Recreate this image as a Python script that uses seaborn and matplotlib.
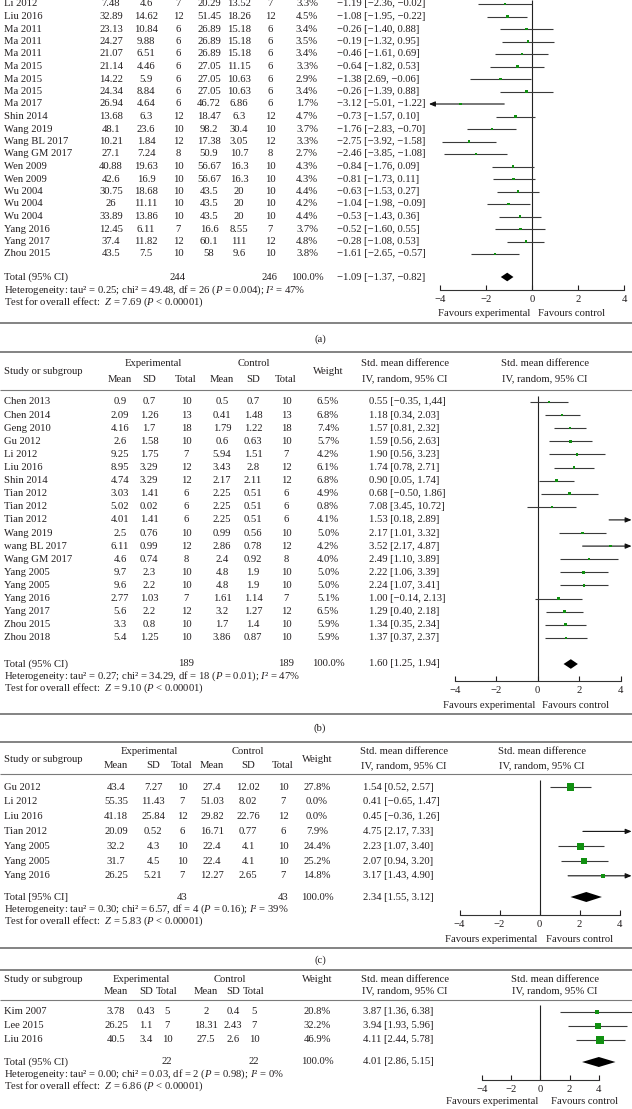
import numpy as np
import pandas as pd
import matplotlib
matplotlib.use("Agg")
import matplotlib.pyplot as plt
import seaborn as sns

sns.set_theme(style="white")
plt.rcParams["font.family"] = ["Liberation Serif", "DejaVu Serif"]
plt.rcParams["mathtext.fontset"] = "custom"
plt.rcParams["mathtext.rm"] = "Liberation Serif"
plt.rcParams["mathtext.it"] = "Liberation Serif:italic"
plt.rcParams["axes.unicode_minus"] = True

W, H, DPI = 632, 1109, 100
FS = 7.7
TXT = "#231f20"
GREEN = "#119011"
CI_COL = "#3a3a3a"
SEP_COL = "#7a7a7a"

# ---------------- panel (a) data ----------------
a_study = ["Li 2012", "Liu 2016", "Ma 2011", "Ma 2011", "Ma 2011", "Ma 2015", "Ma 2015", "Ma 2015",
           "Ma 2017", "Shin 2014", "Wang 2019", "Wang BL 2017", "Wang GM 2017", "Wen 2009", "Wen 2009",
           "Wu 2004", "Wu 2004", "Wu 2004", "Yang 2016", "Yang 2017", "Zhou 2015"]
a_exp_mean = [7.48, 32.89, 23.13, 24.27, 21.07, 21.14, 14.22, 24.34, 26.94, 13.68, 48.1, 10.21, 27.1,
              40.88, 42.6, 30.75, 26, 33.89, 12.45, 37.4, 43.5]
a_exp_sd = [4.6, 14.62, 10.84, 9.88, 6.51, 4.46, 5.9, 8.84, 4.64, 6.3, 23.6, 1.84, 7.24, 19.63, 16.9,
            18.68, 11.11, 13.86, 6.11, 11.82, 7.5]
a_exp_n = [7, 12, 6, 6, 6, 6, 6, 6, 6, 12, 10, 12, 8, 10, 10, 10, 10, 10, 7, 12, 10]
a_ctl_mean = [20.29, 51.45, 26.89, 26.89, 26.89, 27.05, 27.05, 27.05, 46.72, 18.47, 98.2, 17.38, 50.9,
              56.67, 56.67, 43.5, 43.5, 43.5, 16.6, 60.1, 58]
a_ctl_sd = [13.52, 18.26, 15.18, 15.18, 15.18, 11.15, 10.63, 10.63, 6.86, 6.3, 30.4, 3.05, 10.7, 16.3,
            16.3, 20, 20, 20, 8.55, 111, 9.6]
a_ctl_n = [7, 12, 6, 6, 6, 6, 6, 6, 6, 12, 10, 12, 8, 10, 10, 10, 10, 10, 7, 12, 10]
a_weight = [3.3, 4.5, 3.4, 3.5, 3.4, 3.3, 2.9, 3.4, 1.7, 4.7, 3.7, 3.3, 2.7, 4.3, 4.3, 4.4, 4.2, 4.4,
            3.7, 4.8, 3.8]
a_smd = [-1.19, -1.08, -0.26, -0.19, -0.46, -0.64, -1.38, -0.26, -3.12, -0.73, -1.76, -2.75, -2.46,
         -0.84, -0.81, -0.63, -1.04, -0.53, -0.52, -0.28, -1.61]
a_lo = [-2.36, -1.95, -1.40, -1.32, -1.61, -1.82, -2.69, -1.39, -5.01, -1.57, -2.83, -3.92, -3.85,
        -1.76, -1.73, -1.53, -1.98, -1.43, -1.60, -1.08, -2.65]
a_hi = [-0.02, -0.22, 0.88, 0.95, 0.69, 0.53, -0.06, 0.88, -1.22, 0.10, -0.70, -1.58, -1.08, 0.09,
        0.11, 0.27, -0.09, 0.36, 0.55, 0.53, -0.57]
a_ci_labels = ["−1.19 [−2.36, −0.02]", "−1.08 [−1.95, −0.22]", "−0.26 [−1.40, 0.88]",
               "−0.19 [−1.32, 0.95]", "−0.46 [−1.61, 0.69]", "−0.64 [−1.82, 0.53]",
               "−1.38 [2.69, −0.06]", "−0.26 [−1.39, 0.88]", "−3.12 [−5.01, −1.22]",
               "−0.73 [−1.57, 0.10]", "−1.76 [−2.83, −0.70]", "−2.75 [−3.92, −1.58]",
               "−2.46 [−3.85, −1.08]", "−0.84 [−1.76, 0.09]", "−0.81 [−1.73, 0.11]",
               "−0.63 [−1.53, 0.27]", "−1.04 [−1.98, −0.09]", "−0.53 [−1.43, 0.36]",
               "−0.52 [−1.60, 0.55]", "−0.28 [−1.08, 0.53]", "−1.61 [−2.65, −0.57]"]
a_plot_order = list(range(21))
a_total_n = [244, 246]
a_total = [-1.09, -1.37, -0.82]
a_total_label = "−1.09 [−1.37, −0.82]"
a_het = ["0.25", "49.48", "26", "0.004", "47%"]
a_z = "7.69"

# ---------------- panel (b) data ----------------
b_study = ["Chen 2013", "Chen 2014", "Geng 2010", "Gu 2012", "Li 2012", "Liu 2016", "Shin 2014",
           "Tian 2012", "Tian 2012", "Tian 2012", "Wang 2019", "wang BL 2017", "Wang GM 2017",
           "Yang 2005", "Yang 2005", "Yang 2016", "Yang 2017", "Zhou 2015", "Zhou 2018"]
b_exp_mean = [0.9, 2.09, 4.16, 2.6, 9.25, 8.95, 4.74, 3.03, 5.02, 4.01, 2.5, 6.11, 4.6, 9.7, 9.6,
              2.77, 5.6, 3.3, 5.4]
b_exp_sd = [0.7, 1.26, 1.7, 1.58, 1.75, 3.29, 3.29, 1.41, 0.02, 1.41, 0.76, 0.99, 0.74, 2.3, 2.2,
            1.03, 2.2, 0.8, 1.25]
b_exp_n = [10, 13, 18, 10, 7, 12, 12, 6, 6, 6, 10, 12, 8, 10, 10, 7, 12, 10, 10]
b_ctl_mean = [0.5, 0.41, 1.79, 0.6, 5.94, 3.43, 2.17, 2.25, 2.25, 2.25, 0.99, 2.86, 2.4, 4.8, 4.8,
              1.61, 3.2, 1.7, 3.86]
b_ctl_sd = [0.7, 1.48, 1.22, 0.63, 1.51, 2.8, 2.11, 0.51, 0.51, 0.51, 0.56, 0.78, 0.92, 1.9, 1.9,
            1.14, 1.27, 1.4, 0.87]
b_ctl_n = [10, 13, 18, 10, 7, 12, 12, 6, 6, 6, 10, 12, 8, 10, 10, 7, 12, 10, 10]
b_weight = [6.5, 6.8, 7.4, 5.7, 4.2, 6.1, 6.8, 4.9, 0.8, 4.1, 5.0, 4.2, 4.0, 5.0, 5.0, 5.1, 6.5,
            5.9, 5.9]
b_smd = [0.55, 1.18, 1.57, 1.59, 1.90, 1.74, 0.90, 0.68, 7.08, 1.53, 2.17, 3.52, 2.49, 2.22, 2.24,
         1.00, 1.29, 1.34, 1.37]
b_lo = [-0.35, 0.34, 0.81, 0.56, 0.56, 0.78, 0.05, -0.50, 3.45, 0.18, 1.01, 2.17, 1.10, 1.06, 1.07,
        -0.14, 0.40, 0.35, 0.37]
b_hi = [1.44, 2.03, 2.32, 2.63, 3.23, 2.71, 1.74, 1.86, 10.72, 2.89, 3.32, 4.87, 3.89, 3.39, 3.41,
        2.13, 2.18, 2.34, 2.37]
b_ci_labels = ["0.55 [−0.35, 1,44]", "1.18 [0.34, 2.03]", "1.57 [0.81, 2.32]", "1.59 [0.56, 2.63]",
               "1.90 [0.56, 3.23]", "1.74 [0.78, 2.71]", "0.90 [0.05, 1.74]", "0.68 [−0.50, 1.86]",
               "7.08 [3.45, 10.72]", "1.53 [0.18, 2.89]", "2.17 [1.01, 3.32]", "3.52 [2.17, 4.87]",
               "2.49 [1.10, 3.89]", "2.22 [1.06, 3.39]", "2.24 [1.07, 3.41]", "1.00 [−0.14, 2.13]",
               "1.29 [0.40, 2.18]", "1.34 [0.35, 2.34]", "1.37 [0.37, 2.37]"]
# the plot rows of the three Tian 2012 entries appear in a different order in the figure
b_plot_order = [0, 1, 2, 3, 4, 5, 6, 9, 7, 8, 10, 11, 12, 13, 14, 15, 16, 17, 18]
b_total_n = [189, 189]
b_total = [1.60, 1.25, 1.94]
b_total_label = "1.60 [1.25, 1.94]"
b_het = ["0.27", "34.29", "18", "0.01", "47%"]
b_z = "9.10"

# ---------------- panel (c) data ----------------
c_study = ["Gu 2012", "Li 2012", "Liu 2016", "Tian 2012", "Yang 2005", "Yang 2005", "Yang 2016"]
c_exp_mean = [43.4, 55.35, 41.18, 20.09, 32.2, 31.7, 26.25]
c_exp_sd = [7.27, 11.43, 25.84, 0.52, 4.3, 4.5, 5.21]
c_exp_n = [10, 7, 12, 6, 10, 10, 7]
c_ctl_mean = [27.4, 51.03, 29.82, 16.71, 22.4, 22.4, 12.27]
c_ctl_sd = [12.02, 8.02, 22.76, 0.77, 4.1, 4.1, 2.65]
c_ctl_n = [10, 7, 12, 6, 10, 10, 7]
c_weight = [27.8, 0.0, 0.0, 7.9, 24.4, 25.2, 14.8]
c_smd = [1.54, 0.41, 0.45, 4.75, 2.23, 2.07, 3.17]
c_lo = [0.52, -0.65, -0.36, 2.17, 1.07, 0.94, 1.43]
c_hi = [2.57, 1.47, 1.26, 7.33, 3.40, 3.20, 4.90]
c_ci_labels = ["1.54 [0.52, 2.57]", "0.41 [−0.65, 1.47]", "0.45 [−0.36, 1.26]", "4.75 [2.17, 7.33]",
               "2.23 [1.07, 3.40]", "2.07 [0.94, 3.20]", "3.17 [1.43, 4.90]"]
c_plot_order = [0, 1, 2, 3, 5, 4, 6]
c_total_n = [43, 43]
c_total = [2.34, 1.55, 3.12]
c_total_label = "2.34 [1.55, 3.12]"
c_het = ["0.30", "6.57", "4", "0.16", "39%"]
c_z = "5.83"

# ---------------- panel (d) data ----------------
d_study = ["Kim 2007", "Lee 2015", "Liu 2016"]
d_exp_mean = [3.78, 26.25, 40.5]
d_exp_sd = [0.43, 1.1, 3.4]
d_exp_n = [5, 7, 10]
d_ctl_mean = [2, 18.31, 27.5]
d_ctl_sd = [0.4, 2.43, 2.6]
d_ctl_n = [5, 7, 10]
d_weight = [20.8, 32.2, 46.9]
d_smd = [3.87, 3.94, 4.11]
d_lo = [1.36, 1.93, 2.44]
d_hi = [6.38, 5.96, 5.78]
d_ci_labels = ["3.87 [1.36, 6.38]", "3.94 [1.93, 5.96]", "4.11 [2.44, 5.78]"]
d_plot_order = [0, 1, 2]
d_total_n = [22, 22]
d_total = [4.01, 2.86, 5.15]
d_total_label = "4.01 [2.86, 5.15]"
d_het = ["0.00", "0.03", "2", "0.98", "0%"]
d_z = "6.86"

xticks = [-4, -2, 0, 2, 4]
xtick_labels = ["−4", "−2", "0", "2", "4"]

# ---------------- figure ----------------
fig = plt.figure(figsize=(W / DPI, H / DPI), dpi=DPI)
fig.patch.set_facecolor("white")
bg = fig.add_axes([0, 0, 1, 1])
bg.set_xlim(0, W)
bg.set_ylim(H, 0)
bg.axis("off")


def T(x, y, s, ha="center", **kw):
    bg.text(x, y, s, ha=ha, va="center", fontsize=FS, color=TXT, **kw)


def fmt(v):
    return f"{v:g}"


def build(prefix):
    g = globals()
    return {k: g[f"{prefix}_{k}"] for k in
            ["study", "exp_mean", "exp_sd", "exp_n", "ctl_mean", "ctl_sd", "ctl_n", "weight",
             "smd", "lo", "hi", "ci_labels", "plot_order", "total_n", "total", "total_label",
             "het", "z"]}


def draw_panel(D, L):
    c = L["cols"]
    y0, dy = L["y0"], L["dy"]
    # header
    if L.get("top_line") is not None:
        bg.hlines(L["top_line"], 0, W, color=SEP_COL, lw=1.3)
        bg.hlines(L["hdr_line"], 0, W, color=SEP_COL, lw=0.8)
        T(c["name"], L["study_y"], "Study or subgroup", ha="left")
        T((c["em"] + c["en"]) / 2, L["hdr1"], "Experimental")
        T((c["cm"] + c["cn"]) / 2, L["hdr1"], "Control")
        T(c["w"], L["weight_y"], "Weight")
        for key, lab in [("em", "Mean"), ("esd", "SD"), ("en", "Total"),
                         ("cm", "Mean"), ("csd", "SD"), ("cn", "Total")]:
            T(c[key], L["hdr2"], lab)
        for xc in (c["ci_hdr"], c["plot_hdr"]):
            T(xc, L["hdr1"], "Std. mean difference")
            T(xc, L["hdr2"], "IV, random, 95% CI")
    # rows
    for i, name in enumerate(D["study"]):
        y = y0 + i * dy
        T(c["name"], y, name, ha="left")
        T(c["em"], y, fmt(D["exp_mean"][i]))
        T(c["esd"], y, fmt(D["exp_sd"][i]))
        T(c["en"], y, fmt(D["exp_n"][i]))
        T(c["cm"], y, fmt(D["ctl_mean"][i]))
        T(c["csd"], y, fmt(D["ctl_sd"][i]))
        T(c["cn"], y, fmt(D["ctl_n"][i]))
        T(c["w"], y, f"{D['weight'][i]:.1f}%")
        T(c["ci"], y, D["ci_labels"][i], ha="left")
    # totals
    yt = L["total"]
    T(c["name"], yt, L["total_text"], ha="left")
    T(c["en"], yt, str(D["total_n"][0]))
    T(c["cn"], yt, str(D["total_n"][1]))
    T(c["w"], yt, "100.0%")
    T(c["ci"], yt, D["total_label"], ha="left")
    h = D["het"]
    T(c["name"], L["het"],
      f"Heterogeneity: tau² = {h[0]}; chi² = {h[1]}, df = {h[2]} ($P$ = {h[3]}); $I$² = {h[4]}",
      ha="left")
    T(c["name"], L["test"], f"Test for overall effect:  $Z$ = {D['z']} ($P$ < 0.00001)", ha="left")
    if L.get("sep") is not None:
        bg.hlines(L["sep"], 0, W, color=SEP_COL, lw=1.3)
        T(320, L["label_y"], L["label"])

    # ---- forest plot ----
    top, bot = L["ax_top"], L["axis"]
    Lp, Rp, x0, s = L["L"], L["R"], L["x0"], L["s"]
    ax = fig.add_axes([Lp / W, 1 - bot / H, (Rp - Lp) / W, (bot - top) / H])
    ax.patch.set_alpha(0)
    xmin, xmax = (Lp - x0) / s, (Rp - x0) / s
    ybot, ytop = (bot - y0) / dy, (top - y0) / dy
    order = D["plot_order"]
    df = pd.DataFrame({
        "row": np.arange(len(order)),
        "smd": np.array(D["smd"])[order],
        "lo": np.array(D["lo"])[order],
        "hi": np.array(D["hi"])[order],
        "w": np.array(D["weight"])[order],
    })
    df = df[df["w"] > 0]
    ax.vlines(0, (L["zero_top"] - y0) / dy, ybot, color="#222222", lw=0.8, zorder=1)
    arrow = dict(arrowstyle="-|>,head_length=0.6,head_width=0.25", color="#111111", lw=0.8,
                 shrinkA=0, shrinkB=0, mutation_scale=6)
    for r in df.itertuples():
        if r.hi > xmax:
            ax.annotate("", xy=(xmax - 0.02, r.row), xytext=(max(r.lo, xmin), r.row), arrowprops=arrow)
        elif r.lo < xmin:
            ax.annotate("", xy=(xmin + 0.02, r.row), xytext=(min(r.hi, xmax), r.row), arrowprops=arrow)
        else:
            ax.hlines(r.row, r.lo, r.hi, color=CI_COL, lw=0.8, zorder=2)
    if L["sq"] is None:
        sns.scatterplot(data=df, x="smd", y="row", marker="s", color=GREEN, s=3,
                        edgecolor="none", linewidth=0, legend=False, ax=ax, zorder=3)
    else:
        sns.scatterplot(data=df, x="smd", y="row", size="w", sizes=L["sq"][0],
                        size_norm=L["sq"][1], marker="s", color=GREEN,
                        edgecolor="none", linewidth=0, legend=False, ax=ax, zorder=3)
    est, lo, hi = D["total"]
    yd = (L["total"] - y0) / dy
    hh = L["dh"] / dy
    ax.fill([lo, est, hi, est], [yd, yd - hh, yd, yd + hh], color="black", lw=0, zorder=3)
    ax.set_xlim(xmin, xmax)
    ax.set_ylim(ybot, ytop)
    ax.set_xlabel("")
    ax.set_ylabel("")
    for sp in ["top", "right", "left"]:
        ax.spines[sp].set_visible(False)
    ax.spines["bottom"].set_bounds(-4, 4)
    ax.spines["bottom"].set_color("#333333")
    ax.spines["bottom"].set_linewidth(0.8)
    ax.set_xticks(xticks)
    ax.set_xticklabels(xtick_labels)
    ax.set_yticks([])
    ax.grid(False)
    ax.tick_params(axis="x", direction="in", length=3.5, width=0.8, pad=3.5, labelsize=FS,
                   colors=TXT, bottom=True)
    ax.annotate("Favours experimental", xy=(0, 0), xycoords=("data", "axes fraction"),
                xytext=(-2, -L["fav_off"]), textcoords="offset pixels", ha="right",
                va="center", fontsize=FS, color=TXT)
    ax.annotate("Favours control", xy=(0, 0), xycoords=("data", "axes fraction"),
                xytext=(L["fav_gap"], -L["fav_off"]), textcoords="offset pixels", ha="left",
                va="center", fontsize=FS, color=TXT)


layouts = {
    "a": dict(cols=dict(name=4, em=111, esd=146, en=178, cm=209, csd=239, cn=270, w=307, ci=337),
              top_line=None, y0=4, dy=12.5, total=277, het=290, test=302, total_text="Total (95% CI)",
              sep=323, label="(a)", label_y=339, ax_top=0, zero_top=0, axis=290,
              L=428.5, R=632, x0=532.3, s=23.0, sq=None, dh=4.3, fav_off=23, fav_gap=6),
    "b": dict(cols=dict(name=4, em=120, esd=149, en=186, cm=222, csd=253, cn=286, w=328, ci=369,
                        ci_hdr=405, plot_hdr=545),
              top_line=352, hdr1=364, hdr2=379, study_y=371, weight_y=371, hdr_line=390,
              y0=402, dy=13.1, total=664, het=676.5, test=688, total_text="Total (95% CI)",
              sep=714, label="(b)", label_y=728, ax_top=392, zero_top=396, axis=681,
              L=450, R=632, x0=537.7, s=20.7, sq=None, dh=4.8, fav_off=24, fav_gap=4),
    "c": dict(cols=dict(name=4, em=116, esd=153, en=182, cm=212, csd=248, cn=283, w=317, ci=363,
                        ci_hdr=404, plot_hdr=542),
              top_line=742, hdr1=752, hdr2=766, study_y=759, weight_y=759, hdr_line=774,
              y0=787, dy=14.8, total=897, het=909.5, test=921, total_text="Total [95% CI]",
              sep=948, label="(c)", label_y=960, ax_top=776, zero_top=780, axis=915,
              L=450, R=632, x0=539.5, s=20.0, sq=((7, 28), (12, 28)), dh=5, fav_off=24, fav_gap=6),
    "d": dict(cols=dict(name=4, em=116, esd=146, en=167, cm=206, csd=233, cn=254, w=317, ci=363,
                        ci_hdr=405, plot_hdr=555),
              top_line=970, hdr1=980, hdr2=991, study_y=980, weight_y=980, hdr_line=1000,
              y0=1012, dy=14, total=1062, het=1074.5, test=1086, total_text="Total (95% CI)",
              sep=None, ax_top=1002, zero_top=1005, axis=1080,
              L=470, R=660, x0=540.3, s=14.6, sq=((8, 34), (20.8, 46.9)), dh=5, fav_off=22, fav_gap=11),
}

for p in ["a", "b", "c", "d"]:
    draw_panel(build(p), layouts[p])

fig.savefig("out.png", dpi=DPI, facecolor="white")
